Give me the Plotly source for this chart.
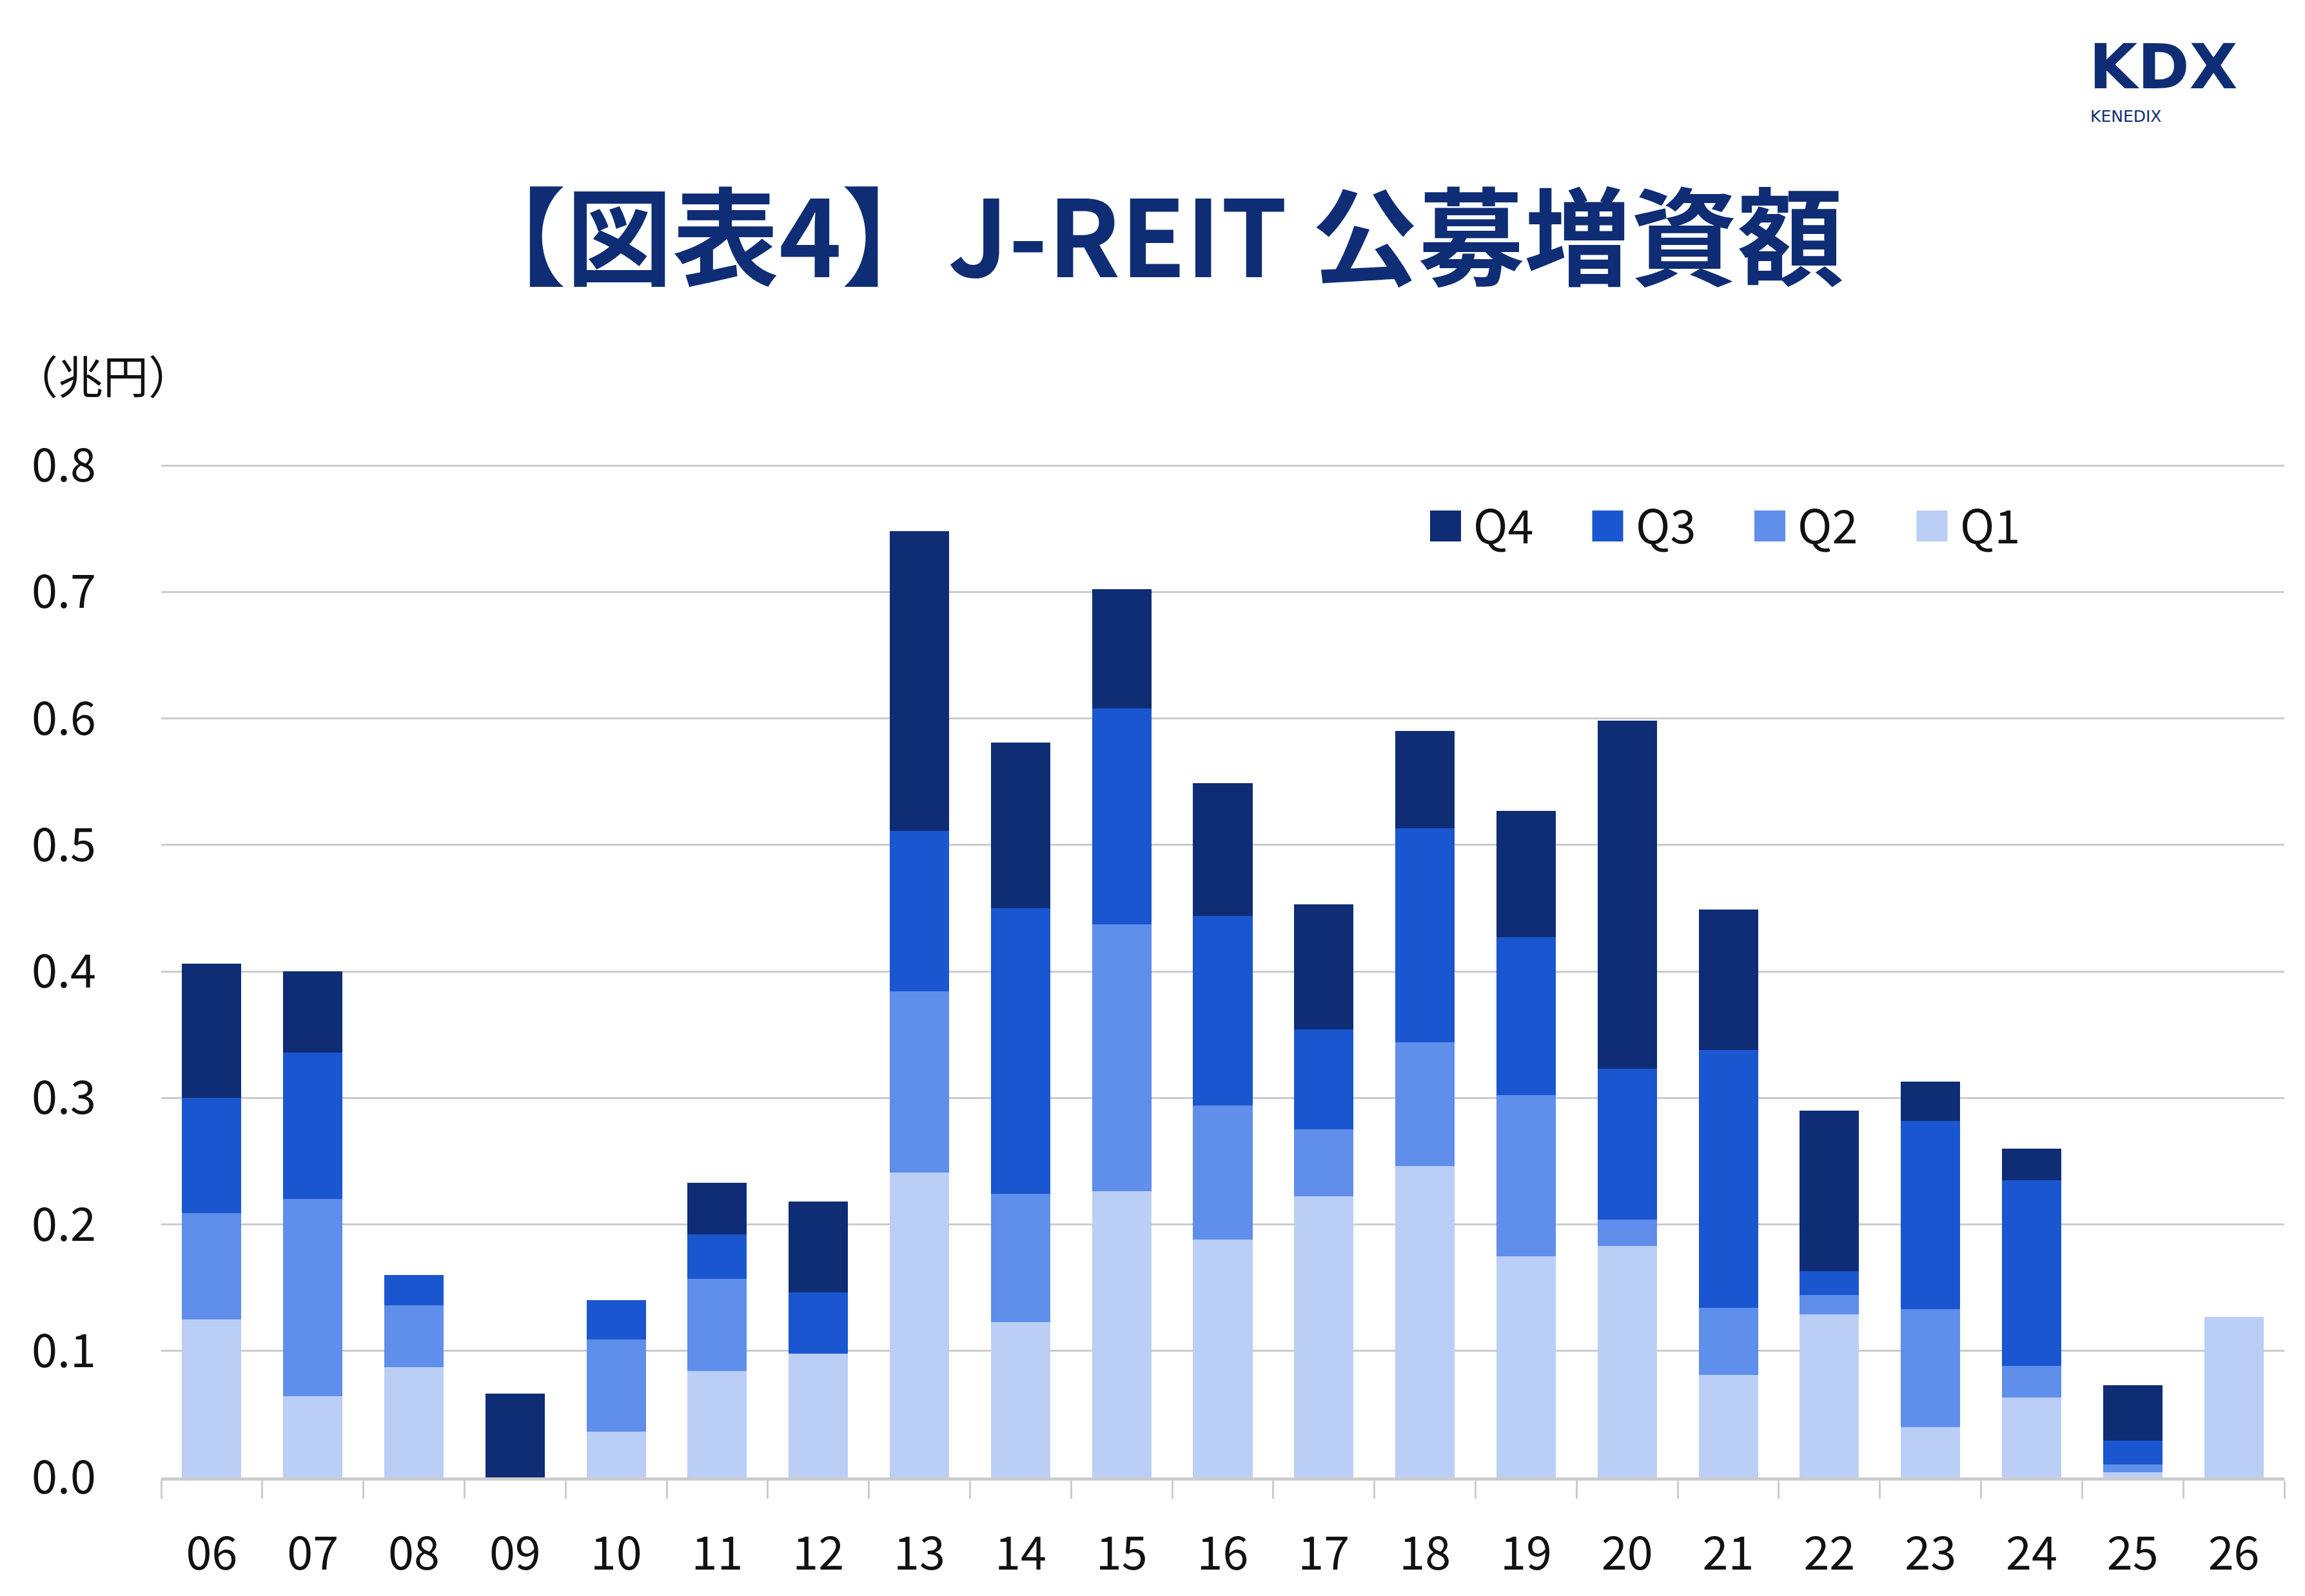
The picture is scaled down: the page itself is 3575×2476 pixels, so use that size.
import plotly.graph_objects as go

# ---- data (兆円) ----
years = ["06", "07", "08", "09", "10", "11", "12", "13", "14", "15", "16",
         "17", "18", "19", "20", "21", "22", "23", "24", "25", "26"]
q1 = [0.125, 0.064, 0.087, 0.000, 0.036, 0.084, 0.098, 0.241, 0.123, 0.226, 0.188,
      0.222, 0.246, 0.175, 0.183, 0.081, 0.129, 0.040, 0.063, 0.004, 0.127]
q2 = [0.084, 0.156, 0.049, 0.000, 0.073, 0.073, 0.000, 0.143, 0.101, 0.211, 0.106,
      0.053, 0.098, 0.127, 0.021, 0.053, 0.015, 0.093, 0.025, 0.006, 0.000]
q3 = [0.091, 0.116, 0.024, 0.000, 0.031, 0.035, 0.048, 0.127, 0.226, 0.171, 0.150,
      0.079, 0.169, 0.125, 0.119, 0.204, 0.019, 0.149, 0.147, 0.019, 0.000]
q4 = [0.106, 0.064, 0.000, 0.066, 0.000, 0.041, 0.072, 0.237, 0.131, 0.094, 0.105,
      0.099, 0.077, 0.100, 0.275, 0.111, 0.127, 0.031, 0.025, 0.044, 0.000]
series_names = ["Q1", "Q2", "Q3", "Q4"]
y_ticks = [0.0, 0.1, 0.2, 0.3, 0.4, 0.5, 0.6, 0.7, 0.8]

colors = {"Q1": "#BBCEF6", "Q2": "#5F8EEB", "Q3": "#1A56D0", "Q4": "#0E2D75"}
NAVY = "#0E2D75"
GRID = "#CCCCCC"
FONT = "Noto Sans CJK JP"

W, H = 3575, 2476
L, R, T, B = 250, 32, 720, 184
PW, PH = W - L - R, H - T - B
Y_MAX = 0.8 * 1572 / 1570  # tiny headroom so the 0.8 gridline is drawn


def px_x(x):
    return (x - L) / PW


def px_y(y):
    return (H - B - y) / PH


fig = go.Figure()
for name, vals in zip(series_names, [q1, q2, q3, q4]):
    fig.add_trace(go.Bar(x=years, y=vals, name=name,
                         marker=dict(color=colors[name], line=dict(width=0)),
                         showlegend=False))

fig.update_layout(
    width=W, height=H,
    margin=dict(l=L, r=R, t=T, b=B, pad=0),
    paper_bgcolor="white", plot_bgcolor="white",
    barmode="stack", bargap=0.413,
    font=dict(family=FONT, size=72, color="#111111"),
    xaxis=dict(
        type="category", showline=True, linecolor=GRID, linewidth=4.5,
        ticks="outside", tickson="boundaries", ticklen=28, tickwidth=3,
        tickcolor=GRID, showgrid=False, ticklabelstandoff=52,
        tickfont=dict(family=FONT, size=72, color="#111111"),
    ),
    yaxis=dict(
        range=[0, Y_MAX], tickvals=y_ticks, ticktext=[f"{v:.1f}" for v in y_ticks],
        showgrid=True, gridcolor=GRID, gridwidth=3, zeroline=False,
        showline=False, ticks="", ticklabelstandoff=100,
        tickfont=dict(family=FONT, size=72, color="#111111"),
    ),
)

annotations = []
shapes = []

# Title
annotations.append(dict(
    x=px_x(1786), y=px_y(358), xref="paper", yref="paper",
    xanchor="center", yanchor="middle", showarrow=False,
    text="<b>【図表4】J-REIT 公募増資額</b>",
    font=dict(family=FONT, size=165, color=NAVY),
))

# Unit label
annotations.append(dict(
    x=px_x(160), y=px_y(580), xref="paper", yref="paper",
    xanchor="center", yanchor="middle", showarrow=False,
    text="（兆円）", font=dict(family=FONT, size=70, color="#111111"),
))

# Logo
annotations.append(dict(
    x=px_x(3238), y=px_y(103), xref="paper", yref="paper",
    xanchor="left", yanchor="middle", showarrow=False,
    text="<b>KDX</b>", font=dict(family="DejaVu Sans", size=97, color=NAVY),
))
annotations.append(dict(
    x=px_x(3240), y=px_y(180), xref="paper", yref="paper",
    xanchor="left", yanchor="middle", showarrow=False,
    text="KENEDIX", font=dict(family="DejaVu Sans", size=25, color=NAVY),
))

# Custom legend (Q4, Q3, Q2, Q1)
legend_x0 = 2218
legend_step = 251.5
for i, name in enumerate(["Q4", "Q3", "Q2", "Q1"]):
    x0 = legend_x0 + i * legend_step
    shapes.append(dict(
        type="rect", xref="paper", yref="paper",
        x0=px_x(x0), x1=px_x(x0 + 48), y0=px_y(840), y1=px_y(792),
        fillcolor=colors[name], line=dict(width=0),
    ))
    annotations.append(dict(
        x=px_x(x0 + 65), y=px_y(811), xref="paper", yref="paper",
        xanchor="left", yanchor="middle", showarrow=False,
        text=name, font=dict(family=FONT, size=72, color="#111111"),
    ))

fig.update_layout(annotations=annotations, shapes=shapes)
fig.write_html("out.html")
